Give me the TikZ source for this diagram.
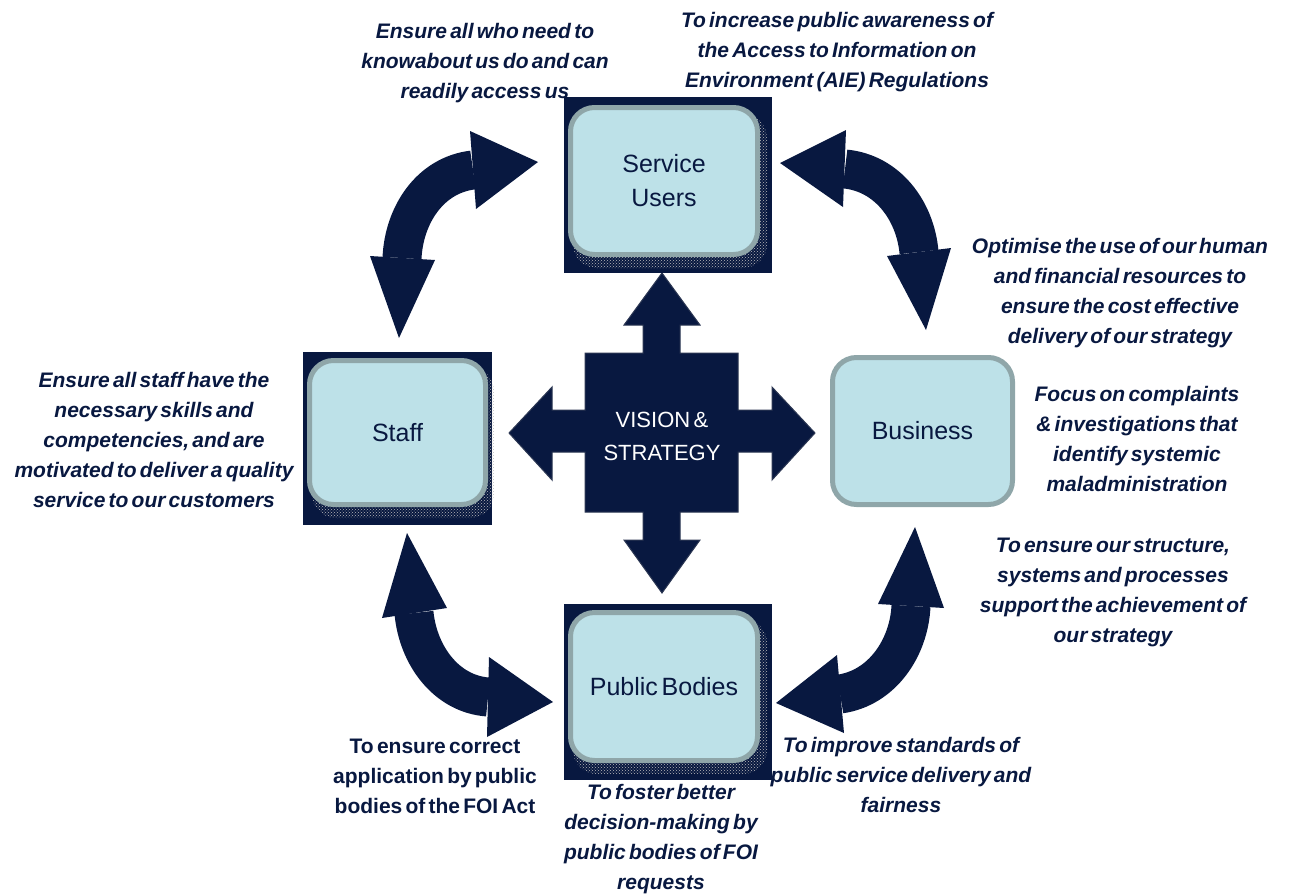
\documentclass[tikz,border=0pt]{standalone}
\usepackage{fontspec}
\setmainfont{Liberation Sans}[WordSpace=0.55]
\usetikzlibrary{patterns}
\definecolor{navy}{RGB}{8,24,64}
\definecolor{boxfill}{RGB}{189,225,232}
\definecolor{boxline}{RGB}{143,166,169}
\tikzset{
  darkbg/.style={fill=navy},
  shadowdots/.style={pattern=crosshatch dots, pattern color=gray!55, rounded corners=24pt},
  unitbox/.style={rounded corners=24pt, fill=boxfill, draw=boxline, line width=5pt,
    text=navy, font=\fontsize{25}{34}\selectfont, align=center, inner sep=0pt},
  note/.style={text=navy, font=\fontsize{21}{30}\selectfont\bfseries\itshape, align=center, inner sep=0pt},
  noteup/.style={text=navy, font=\fontsize{21}{30}\selectfont\bfseries, align=center, inner sep=0pt},
  shaft/.style={draw=navy, line width=39pt},
  head/.style={fill=navy},
  cross/.style={fill=navy, draw=navy!70!gray, line width=1pt},
  crosstext/.style={text=white, font=\fontsize{22}{33}\selectfont, align=center, inner sep=0pt}
}
\begin{document}
\begin{tikzpicture}[x=1pt,y=-1pt]
\useasboundingbox (0,0) rectangle (1291,895);

% ---------- curved double arrows ----------
% top-left
\coordinate (tlAt) at (538,162); \coordinate (tlA1) at (470,131); \coordinate (tlA2) at (476,209); \coordinate (tlA) at (473,170);
\coordinate (tlBt) at (399,338); \coordinate (tlB1) at (370,256); \coordinate (tlB2) at (435,260); \coordinate (tlB) at (402,258);
\draw[shaft] (tlA) .. controls (430,175) and (404,215) .. (tlB);
\fill[head] (tlAt) -- (tlA1) -- (tlA2) -- cycle;
\fill[head] (tlBt) -- (tlB1) -- (tlB2) -- cycle;
% top-right
\coordinate (trAt) at (780,163); \coordinate (trA1) at (846,130); \coordinate (trA2) at (843,207); \coordinate (trA) at (845,169);
\coordinate (trBt) at (926,330); \coordinate (trB1) at (887,256); \coordinate (trB2) at (951,248); \coordinate (trB) at (919,252);
\draw[shaft] (trA) .. controls (887,173) and (915,210) .. (trB);
\fill[head] (trAt) -- (trA1) -- (trA2) -- cycle;
\fill[head] (trBt) -- (trB1) -- (trB2) -- cycle;
% bottom-left
\coordinate (blAt) at (407,533); \coordinate (blA1) at (382,618); \coordinate (blA2) at (447,608); \coordinate (blA) at (414,613);
\coordinate (blBt) at (553,702); \coordinate (blB1) at (489,657); \coordinate (blB2) at (487,737); \coordinate (blB) at (488,697);
\draw[shaft] (blA) .. controls (418,655) and (446,694) .. (blB);
\fill[head] (blAt) -- (blA1) -- (blA2) -- cycle;
\fill[head] (blBt) -- (blB1) -- (blB2) -- cycle;
% bottom-right
\coordinate (brAt) at (915,527); \coordinate (brA1) at (878,604); \coordinate (brA2) at (944,608); \coordinate (brA) at (911,606);
\coordinate (brBt) at (776,703); \coordinate (brB1) at (837,655); \coordinate (brB2) at (844,733); \coordinate (brB) at (840,694);
\draw[shaft] (brA) .. controls (909,648) and (882,688) .. (brB);
\fill[head] (brAt) -- (brA1) -- (brA2) -- cycle;
\fill[head] (brBt) -- (brB1) -- (brB2) -- cycle;

% ---------- central cross ----------
\draw[cross] (662,273) -- (700,325) -- (680,325) -- (680,353) -- (738,353) -- (738,410) -- (772,410) -- (772,387)
  -- (815,433) -- (772,480) -- (772,452) -- (738,452) -- (738,512) -- (680,512) -- (680,540) -- (700,540)
  -- (662,593) -- (624,540) -- (643,540) -- (643,512) -- (585,512) -- (585,452) -- (552,452) -- (552,480)
  -- (509,433) -- (552,387) -- (552,410) -- (585,410) -- (585,353) -- (643,353) -- (643,325) -- (624,325) -- cycle;
\node[crosstext] (vision) at (662,436) {VISION \&\\STRATEGY};

% ---------- boxes ----------
\fill[darkbg] (564,97) rectangle (772,273);
\fill[shadowdots] (573,114) rectangle (767,268);
\node[unitbox, minimum width=187pt, minimum height=147pt] (users) at (664,181) {Service\\Users};

\fill[darkbg] (303,352) rectangle (492,525);
\fill[shadowdots] (312,367) rectangle (494,518);
\node[unitbox, minimum width=176pt, minimum height=144pt] (staff) at (397.5,432.5) {Staff};

\node[unitbox, minimum width=180pt, minimum height=147pt] (business) at (922.5,431) {Business};

\fill[darkbg] (564,604) rectangle (772,780);
\fill[shadowdots] (573,619) rectangle (767,774);
\node[unitbox, minimum width=187pt, minimum height=148pt] (bodies) at (664,686.5) {Public Bodies};

% ---------- texts ----------
\node[note] (t1) at (485,63) {Ensure all who need to\\knowabout us do and can\\readily access us};
\node[note] (t2) at (837,52) {To increase public awareness of\\the Access to Information on\\Environment (AIE) Regulations};
\node[note] (t3) at (1120,293) {Optimise the use of our human\\and financial resources to\\ensure the cost effective\\delivery of our strategy};
\node[note] (t4) at (1137,439) {Focus on complaints\\\& investigations that\\identify systemic\\maladministration};
\node[note] (t5) at (1113,592) {To ensure our structure,\\systems and processes\\support the achievement of\\our strategy};
\node[note] (t6) at (154,440) {Ensure all staff have the\\necessary skills and\\competencies, and are\\motivated to deliver a quality\\service to our customers};
\node[noteup] (t7) at (435,776) {To ensure correct\\application by public\\bodies of the FOI Act};
\node[note] (t8) at (661,839) {To foster better\\decision-making by\\public bodies of FOI\\requests};
\node[note] (t9) at (901,775) {To improve standards of\\public service delivery and\\fairness};
\end{tikzpicture}
\end{document}
